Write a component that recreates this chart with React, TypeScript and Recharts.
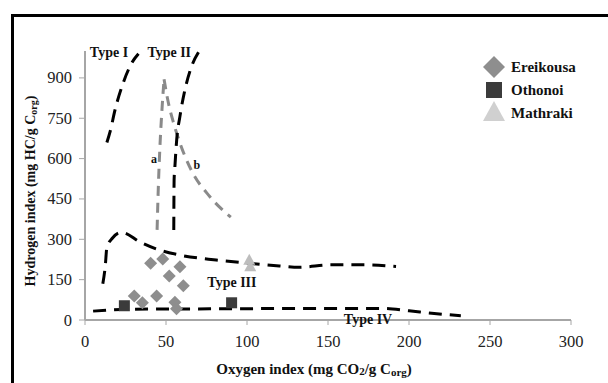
import React from 'react';
import { ComposedChart, Line, Scatter, XAxis, YAxis, Legend } from 'recharts';

// sample points (Oxygen index, Hydrogen index)
const ereikousa = [
  { x: 40.5, y: 211 },
  { x: 48, y: 227 },
  { x: 58.6, y: 198 },
  { x: 52, y: 164 },
  { x: 60.7, y: 127 },
  { x: 30.4, y: 89 },
  { x: 35.4, y: 64 },
  { x: 44.2, y: 89 },
  { x: 55.5, y: 66 },
  { x: 56.5, y: 42 },
];
const othonoi = [
  { x: 24.3, y: 53 },
  { x: 90.5, y: 64 },
];
const mathraki = [
  { x: 102, y: 200 },
  { x: 101.4, y: 224 },
];

// kerogen type boundaries
const typeI = [
  { x: 13.5, y: 660 },
  { x: 15.5, y: 700 },
  { x: 18.5, y: 780 },
  { x: 23.5, y: 880 },
  { x: 28.8, y: 955 },
  { x: 33, y: 990 },
];
const typeII = [
  { x: 54.8, y: 335 },
  { x: 55, y: 520 },
  { x: 55.5, y: 571 },
  { x: 56.6, y: 670 },
  { x: 58.6, y: 757 },
  { x: 61.7, y: 856 },
  { x: 65.8, y: 943 },
  { x: 70.5, y: 1000 },
];
const pathA = [
  { x: 44.5, y: 335 },
  { x: 45.3, y: 500 },
  { x: 46.3, y: 650 },
  { x: 47.7, y: 800 },
  { x: 48.8, y: 895 },
];
const pathB = [
  { x: 48.8, y: 895 },
  { x: 51.3, y: 812 },
  { x: 54.8, y: 730 },
  { x: 58.5, y: 660 },
  { x: 65.8, y: 555 },
  { x: 77, y: 459 },
  { x: 90, y: 382 },
];
const typeIII = [
  { x: 11, y: 135 },
  { x: 12.5, y: 200 },
  { x: 13.5, y: 270 },
  { x: 17, y: 305 },
  { x: 22.5, y: 326 },
  { x: 34, y: 290 },
  { x: 46, y: 260 },
  { x: 58, y: 242 },
  { x: 81, y: 223 },
  { x: 101, y: 211 },
  { x: 120, y: 201 },
  { x: 132, y: 196 },
  { x: 152, y: 205 },
  { x: 173, y: 205 },
  { x: 192, y: 199 },
];
const typeIV = [
  { x: 5, y: 33 },
  { x: 15, y: 37 },
  { x: 30, y: 40 },
  { x: 60, y: 41 },
  { x: 100, y: 42 },
  { x: 132, y: 43 },
  { x: 183, y: 43 },
  { x: 200, y: 34 },
  { x: 214, y: 25 },
  { x: 232, y: 16 },
];

const annotations = [
  { x: 14.8, y: 993, text: 'Type I' },
  { x: 52, y: 993, text: 'Type II' },
  { x: 42.6, y: 600, text: 'a' },
  { x: 69, y: 575, text: 'b' },
  { x: 90.7, y: 141, text: 'Type III' },
  { x: 174.7, y: 2, text: 'Type IV' },
];

const xTicks = [0, 50, 100, 150, 200, 250, 300];
const yTicks = [0, 150, 300, 450, 600, 750, 900];

const legendItems = ['Ereikousa', 'Othonoi', 'Mathraki'];

const SERIF = '"Liberation Serif", "Times New Roman", serif';
const AXIS = '#a6a6a6';

const Diamond = (p: any) => (
  <path d={`M${p.cx},${p.cy - 6.5}L${p.cx + 6.5},${p.cy}L${p.cx},${p.cy + 6.5}L${p.cx - 6.5},${p.cy}Z`} fill="#8e8e8e" />
);
const Square = (p: any) => <rect x={p.cx - 5.5} y={p.cy - 5.5} width={11} height={11} fill="#3b3b3b" />;
const Triangle = (p: any) => (
  <path d={`M${p.cx},${p.cy - 6}L${p.cx + 6},${p.cy + 5}L${p.cx - 6},${p.cy + 5}Z`} fill="#bdbdbd" />
);
const Note = (p: any) => (
  <text
    x={p.cx}
    y={p.cy}
    textAnchor="middle"
    dominantBaseline="central"
    fontFamily={SERIF}
    fontWeight="bold"
    fontSize={p.payload.text.length === 1 ? 12 : 14}
    fill="#111"
  >
    {p.payload.text}
  </text>
);

const XTick = (p: any) => (
  <text x={p.x} y={p.y + 1} textAnchor="middle" dominantBaseline="hanging" fontFamily={SERIF} fontSize={16.5} fill="#222">
    {p.payload.value}
  </text>
);
const YTick = (p: any) => (
  <text x={p.x} y={p.y} textAnchor="end" dominantBaseline="central" fontFamily={SERIF} fontSize={16.5} fill="#222">
    {p.payload.value}
  </text>
);

const LegendBox = () => (
  <svg width={110} height={70}>
    <path d="M13,1L24,12L13,23L2,12Z" fill="#8e8e8e" />
    <rect x={5} y={27} width={16} height={16} fill="#3b3b3b" />
    <path d="M13,46L24,66L2,66Z" fill="#d0d0d0" />
    {legendItems.map((t, i) => (
      <text key={t} x={30} y={12 + i * 23} dominantBaseline="central" fontFamily={SERIF} fontWeight="bold" fontSize={15} fill="#111">
        {t}
      </text>
    ))}
  </svg>
);

const YTitle = () => (
  <text
    transform="translate(30,191) rotate(-90)"
    textAnchor="middle"
    dominantBaseline="central"
    fontFamily={SERIF}
    fontWeight="bold"
    fontSize={14}
    fill="#111"
  >
    Hydrogen index (mg HC/g C<tspan fontSize={10} dy={3}>org</tspan>
    <tspan dy={-3}>)</tspan>
  </text>
);

const XTitle = () => (
  <text x={314} y={369} textAnchor="middle" dominantBaseline="central" fontFamily={SERIF} fontWeight="bold" fontSize={15} fill="#111">
    Oxygen index (mg CO<tspan fontSize={11} dy={2}>2</tspan>
    <tspan dy={-2}>/g C</tspan>
    <tspan fontSize={11} dy={3}>org</tspan>
    <tspan dy={-3}>)</tspan>
  </text>
);

const blackDash = { stroke: '#000', strokeWidth: 3, strokeDasharray: '13 8' };
const grayDash = { stroke: '#8a8a8a', strokeWidth: 3, strokeDasharray: '10 7' };

export default function App() {
  return (
    <div style={{ position: 'absolute', left: 0, top: 0, width: 608, height: 383, overflow: 'hidden', background: '#fff', fontFamily: SERIF }}>
      <div style={{ position: 'absolute', left: 11, top: 14, width: 700, height: 500, border: '3px solid #000' }} />
      <ComposedChart width={608} height={383} margin={{ top: 51, right: 37, bottom: 33, left: 0 }}>
        <XAxis
          type="number"
          dataKey="x"
          domain={[0, 300]}
          ticks={xTicks}
          interval={0}
          height={30}
          axisLine={{ stroke: AXIS, strokeWidth: 2 }}
          tickLine={{ stroke: AXIS }}
          tickSize={5}
          tickMargin={9}
          tick={<XTick />}
          label={<XTitle />}
        />
        <YAxis
          type="number"
          dataKey="y"
          domain={[0, 1000]}
          ticks={yTicks}
          interval={0}
          width={85}
          axisLine={{ stroke: AXIS, strokeWidth: 2 }}
          tickLine={{ stroke: AXIS }}
          tickSize={6}
          tickMargin={7}
          tick={<YTick />}
          label={<YTitle />}
        />
        <Legend
          layout="horizontal"
          verticalAlign="middle"
          align="center"
          content={<LegendBox />}
          wrapperStyle={{ left: 481, top: 55, width: 110, height: 70 }}
        />
        <Line data={pathA} dataKey="y" type="monotone" dot={false} {...grayDash} isAnimationActive={false} />
        <Line data={pathB} dataKey="y" type="monotone" dot={false} {...grayDash} isAnimationActive={false} />
        <Line data={typeI} dataKey="y" type="monotone" dot={false} {...blackDash} isAnimationActive={false} />
        <Line data={typeII} dataKey="y" type="monotone" dot={false} {...blackDash} isAnimationActive={false} />
        <Scatter data={ereikousa} dataKey="y" shape={Diamond} isAnimationActive={false} />
        <Scatter data={othonoi} dataKey="y" shape={Square} isAnimationActive={false} />
        <Scatter data={mathraki} dataKey="y" shape={Triangle} isAnimationActive={false} />
        <Line data={typeIII} dataKey="y" type="monotone" dot={false} {...blackDash} isAnimationActive={false} />
        <Line data={typeIV} dataKey="y" type="monotone" dot={false} {...blackDash} isAnimationActive={false} />
        <Scatter data={annotations} dataKey="y" shape={Note} isAnimationActive={false} />
      </ComposedChart>
    </div>
  );
}
